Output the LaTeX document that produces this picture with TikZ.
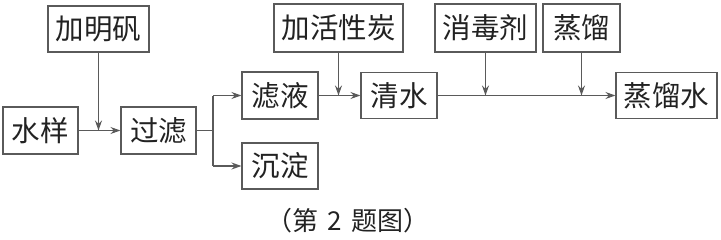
\documentclass[tikz,border=0pt]{standalone}
\usepackage{fontspec}
\setmainfont{Noto Sans CJK SC}
\usetikzlibrary{arrows.meta}
\definecolor{linegray}{HTML}{5A5A5A}
\definecolor{textgray}{HTML}{222222}
\begin{document}
\begin{tikzpicture}[x=1pt,y=-1pt,
  box/.style={draw=linegray,line width=1.1pt,inner sep=0pt,font=\fontsize{28.5}{30}\selectfont,text=textgray,anchor=center},
  conn/.style={draw=linegray,line width=1.1pt},
  arr/.style={conn,-{Stealth[length=10pt,width=7pt]}}]
\useasboundingbox (0,0) rectangle (721,239);
\node[box,minimum width=75pt,minimum height=47pt] (sy) at (40.5,130.5) {水样};
\node[box,minimum width=101pt,minimum height=46pt] (mf) at (98.5,29) {加明矾};
\node[box,minimum width=75pt,minimum height=47pt] (gl) at (158.5,130.5) {过滤};
\node[box,minimum width=76pt,minimum height=47pt] (ly) at (280,95.5) {滤液};
\node[box,minimum width=76pt,minimum height=46pt] (cd) at (280,166) {沉淀};
\node[box,minimum width=129pt,minimum height=48pt] (hx) at (338.5,28) {加活性炭};
\node[box,minimum width=76pt,minimum height=46pt] (qs) at (399,95.5) {清水};
\node[box,minimum width=101pt,minimum height=48pt] (xd) at (485.5,28) {消毒剂};
\node[box,minimum width=77pt,minimum height=48pt] (zl) at (581.5,28) {蒸馏};
\node[box,minimum width=101pt,minimum height=46pt] (zls) at (666.5,95.5) {蒸馏水};
\node[text=textgray,font=\fontsize{26}{28}\selectfont,inner sep=0pt] (cap) at (348,221) {（第\hspace{9pt}2\hspace{9pt}题图）};
% connectors
\coordinate (j1) at (98.5,130.5);
\coordinate (br) at (213,130.5);
\coordinate (bt) at (213,95.5);
\coordinate (bb) at (213,166);
\coordinate (j2) at (338.5,95.5);
\coordinate (j3) at (485.5,95.5);
\coordinate (j4) at (581.5,95.5);
\draw[arr] (sy.east) -- (gl.west);
\draw[arr] (mf.south) -- (j1);
\draw[conn] (gl.east) -- (br);
\draw[conn] (bt) -- (bb);
\draw[arr] (bt) -- (ly.west);
\draw[arr] (bb) -- (cd.west);
\draw[arr] (ly.east) -- (qs.west);
\draw[arr] (hx.south) -- (j2);
\draw[arr] (qs.east) -- (zls.west);
\draw[arr] (xd.south) -- (j3);
\draw[arr] (zl.south) -- (j4);
\end{tikzpicture}
\end{document}
